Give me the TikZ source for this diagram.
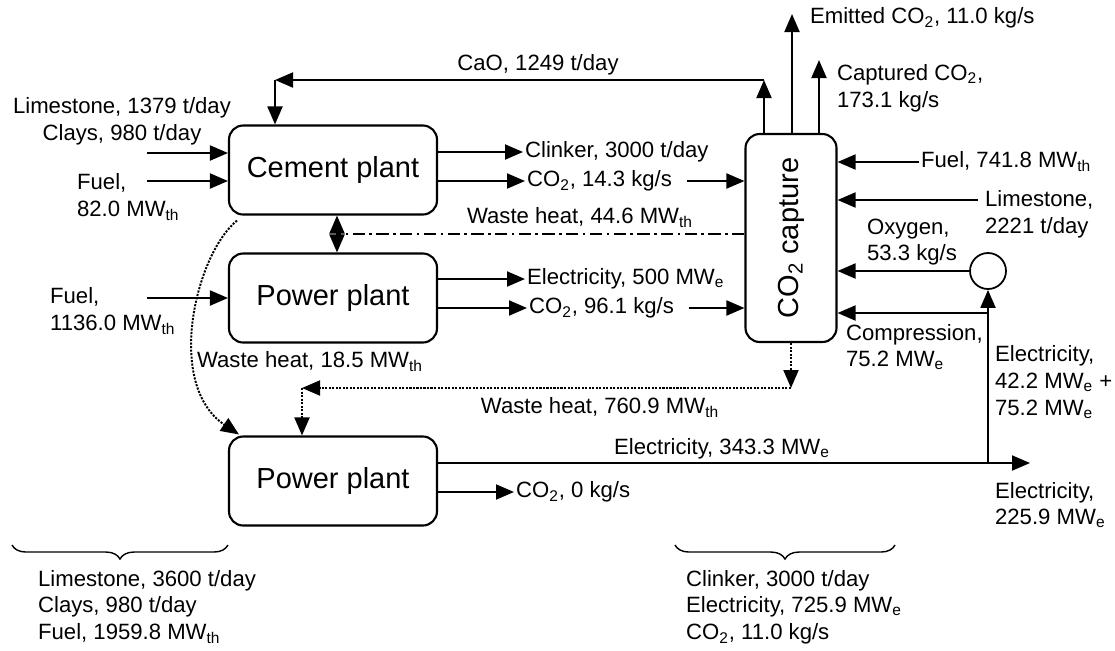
\documentclass[tikz,border=0pt]{standalone}
\usepackage{fontspec}
\setmainfont{Liberation Sans}
\usetikzlibrary{arrows.meta,positioning,calc,decorations.pathreplacing}
\newcommand{\MWth}{MW\textsubscript{th}}
\newcommand{\MWe}{MW\textsubscript{e}}
\newcommand{\COtwo}{CO\textsubscript{2}}

\begin{document}
\begin{tikzpicture}[x=0.02cm, y=-0.02cm,
  plant/.style={rectangle, draw, line width=1.2pt, rounded corners=8pt, minimum width=4.16cm, minimum height=1.78cm, font=\fontsize{16.5}{19}\selectfont},
  lbl/.style={inner sep=1pt, font=\fontsize{12.6}{15.2}\selectfont},
  flow/.style={-{Triangle[length=3.6mm, width=3mm]}, line width=1.1pt},
  heat/.style={flow, dash pattern=on 1.2pt off 0.8pt},
  mixed/.style={line width=0.8pt, dash pattern=on 7pt off 2.5pt on 1.5pt off 2.5pt},
  sumbrace/.style={decorate, decoration={brace, mirror, amplitude=8pt}, line width=0.8pt}
]
  \useasboundingbox (0,0) rectangle (1115,650);

  \node[plant] (cement) at (333,170) {Cement plant};
  \node[plant] (power) at (333,298) {Power plant};
  \node[plant] (powerb) at (333,481) {Power plant};
  \node[plant, minimum width=1.82cm, minimum height=4.16cm] (capture) at (791,238) {};
  \node[rotate=90, font=\fontsize{16.5}{19}\selectfont] (capturetxt) at (capture.center) {\COtwo\ capture};
  \node[circle, draw, line width=1pt, minimum size=0.72cm] (asu) at (988,271) {};

  \node[lbl, align=center] (lsc) at (122,121) {Limestone, 1379 t/day\\Clays, 980 t/day};
  \node[lbl, align=left, anchor=west] (fuelc) at (75,197) {Fuel,\\82.0 \MWth};
  \node[lbl, align=left, anchor=west] (fuelp) at (48,311) {Fuel,\\1136.0 \MWth};
  \coordinate (lscin) at (147,153);
  \coordinate (fuelcin) at (147,181);
  \coordinate (fuelpin) at (147,298);
  \draw[flow] (lscin) -- (lscin -| cement.west);
  \draw[flow] (fuelcin) -- (fuelcin -| cement.west);
  \draw[flow] (fuelpin) -- (fuelpin -| power.west);

  \node[lbl, anchor=west] (clk) at (523,152) {Clinker, 3000 t/day};
  \node[lbl, anchor=west] (co2c) at (525,181) {\COtwo, 14.3 kg/s};
  \node[lbl, anchor=west] (elp) at (525,279) {Electricity, 500 \MWe};
  \node[lbl, anchor=west] (co2p) at (527,308) {\COtwo, 96.1 kg/s};
  \draw[flow] (cement.east |- clk.west) -- (clk.west);
  \draw[flow] (cement.east |- co2c.west) -- (co2c.west);
  \draw[flow] ([xshift=0.25cm]co2c.east) -- (capture.west |- co2c.east);
  \draw[flow] (power.east |- elp.west) -- (elp.west);
  \draw[flow] (power.east |- co2p.west) -- (co2p.west);
  \draw[flow] ([xshift=0.25cm]co2p.east) -- (capture.west |- co2p.east);

  \coordinate (caoa) at (764,80);
  \coordinate (caob) at (275,80);
  \draw[flow] (capture.north -| caoa) -- (caoa);
  \draw[flow] (caoa) -- (caob);
  \draw[flow] (caob) -- (caob |- cement.north);
  \node[lbl] (cao) at (538,65) {CaO, 1249 t/day};

  \coordinate (emit) at (792,14);
  \coordinate (capt) at (819,60);
  \draw[flow] (capture.north -| emit) -- (emit);
  \draw[flow] (capture.north -| capt) -- (capt);
  \node[lbl, anchor=west] (emitlbl) at (808,18) {Emitted \COtwo, 11.0 kg/s};
  \node[lbl, align=left, anchor=west] (captlbl) at (835,88) {Captured \COtwo,\\173.1 kg/s};

  \node[lbl, anchor=west] (fuelx) at (919,162) {Fuel, 741.8 \MWth};
  \draw[flow] (fuelx.west) -- (capture.east |- fuelx.west);
  \coordinate (lsxin) at (978,200);
  \draw[flow] (lsxin) -- (capture.east |- lsxin);
  \node[lbl, align=left, anchor=west] (lsx) at (983,214) {Limestone,\\2221 t/day};
  \node[lbl, align=left, anchor=west] (oxy) at (865,242) {Oxygen,\\53.3 kg/s};
  \draw[flow] (asu.west) -- (capture.east |- asu.west);

  \coordinate (eout) at (1030,463);
  \coordinate (ej) at (asu.south |- eout);
  \coordinate (cj) at (asu.south |- 0,313);
  \draw[flow] (powerb.east |- eout) -- (eout);
  \draw[flow] (ej) -- (asu.south);
  \draw[flow] (cj) -- (capture.east |- cj);
  \node[lbl, align=left, anchor=west] (comp) at (844,347) {Compression,\\75.2 \MWe};
  \node[lbl, align=left, anchor=west] (elx) at (993,382) {Electricity,\\42.2 \MWe\ +\\75.2 \MWe};
  \node[lbl] (elb) at (722,449) {Electricity, 343.3 \MWe};
  \node[lbl, align=left, anchor=west] (elnet) at (993,505) {Electricity,\\225.9 \MWe};
  \node[lbl, anchor=west] (co2b) at (514,492) {\COtwo, 0 kg/s};
  \draw[flow] (powerb.east |- co2b.west) -- (co2b.west);

  \coordinate (wha) at (337,234);
  \draw[mixed] (capture.west |- wha) -- (wha);
  \draw[heat] (wha) -- (wha |- cement.south);
  \draw[heat] (wha) -- (wha |- power.north);
  \node[lbl] (wh1) at (580,218) {Waste heat, 44.6 \MWth};

  \node[lbl] (wh2) at (310,362) {Waste heat, 18.5 \MWth};
  \draw[heat] ([shift={(9,5)}]cement.south west) .. controls (195,255) and (165,385) .. ([shift={(11,-1)}]powerb.north west);

  \coordinate (whb) at (capture.south |- 0,388);
  \coordinate (whc) at (302,388);
  \draw[heat] (capture.south) -- (whb);
  \draw[heat] (whb) -- (whc);
  \draw[heat] (whc) -- (whc |- powerb.north);
  \node[lbl] (wh3) at (600,408) {Waste heat, 760.9 \MWth};

  \coordinate (bla) at (12,545);
  \coordinate (blb) at (cement.west |- bla);
  \coordinate (bra) at (675,545);
  \coordinate (brb) at (895,545);
  \draw[sumbrace] (bla) -- (blb);
  \draw[sumbrace] (bra) -- (brb);
  \node[lbl, align=left, anchor=west] (inputs) at (36,607) {Limestone, 3600 t/day\\Clays, 980 t/day\\Fuel, 1959.8 \MWth};
  \node[lbl, align=left, anchor=west] (outputs) at (684,607) {Clinker, 3000 t/day\\Electricity, 725.9 \MWe\\\COtwo, 11.0 kg/s};
\end{tikzpicture}
\end{document}
